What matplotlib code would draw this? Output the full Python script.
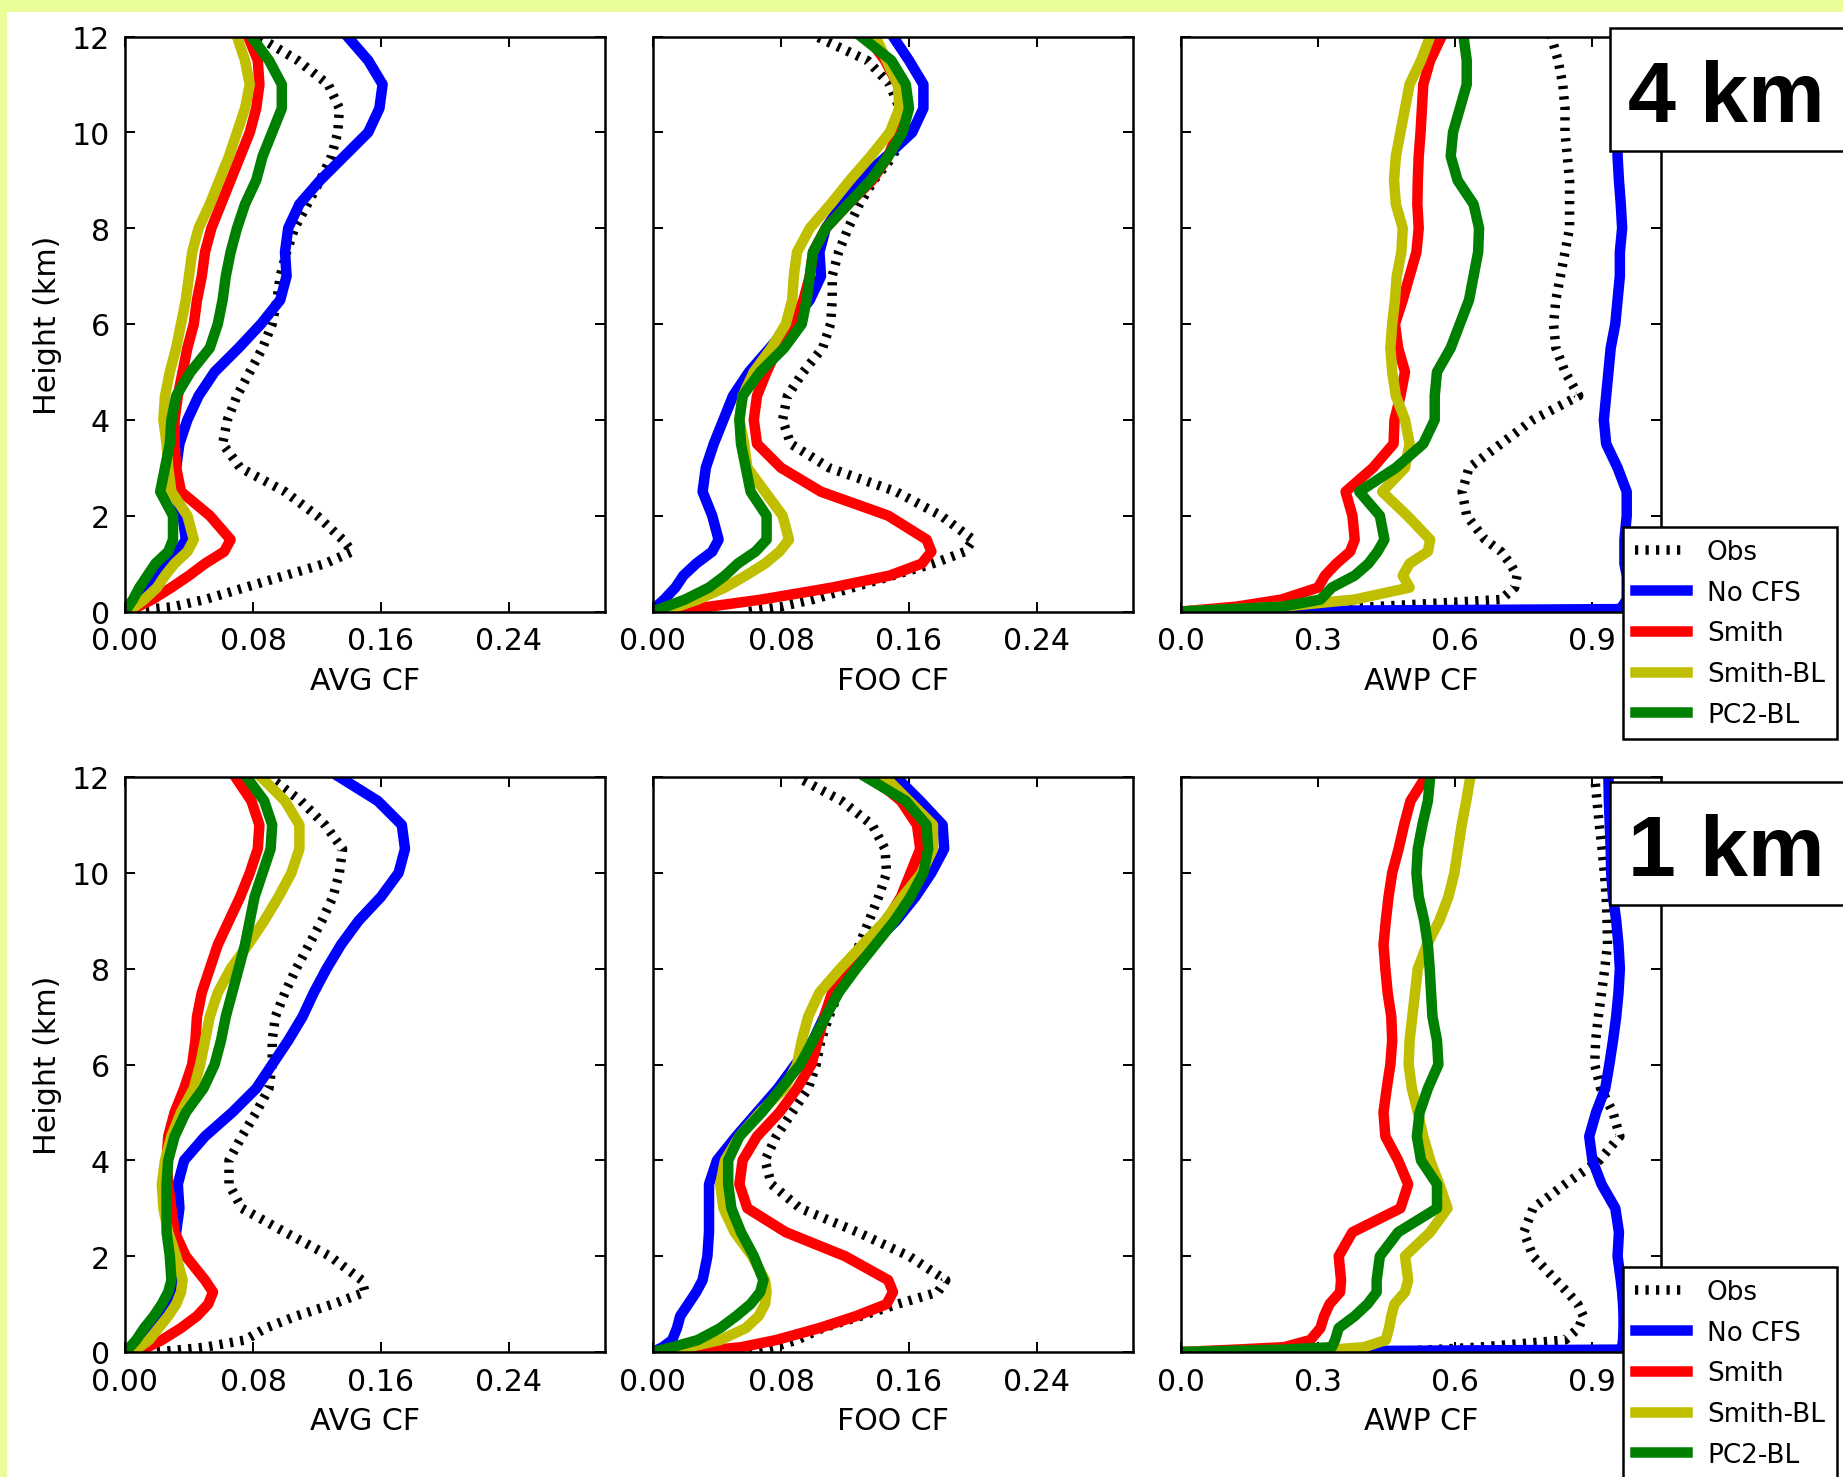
import matplotlib
matplotlib.use('Agg')
import matplotlib.pyplot as plt
from matplotlib.patches import Rectangle
from matplotlib.ticker import FormatStrFormatter

# alturas comunes (km) para todas las curvas
H = [0, 0.05, 0.1, 0.25, 0.5, 0.75, 1.0, 1.25, 1.5, 2.0, 2.5, 3.0, 3.5, 4.0, 4.5,
     5.0, 5.5, 6.0, 6.5, 7.0, 7.5, 8.0, 8.5, 9.0, 9.5, 10.0, 10.5, 11.0, 11.5, 12.0]

SERIES = ['Obs', 'No CFS', 'Smith', 'Smith-BL', 'PC2-BL']

# ---- 4 km ----
AVG4_OBS = [0.0, 0.015, 0.03, 0.05, 0.075, 0.10, 0.125, 0.142, 0.136, 0.12, 0.10, 0.072, 0.061, 0.064, 0.07,
            0.078, 0.086, 0.092, 0.095, 0.097, 0.101, 0.106, 0.114, 0.122, 0.129, 0.133, 0.134, 0.127, 0.108, 0.083]
AVG4_NOCFS = [0.0, 0.0015, 0.003, 0.007, 0.013, 0.02, 0.027, 0.033, 0.038, 0.036, 0.031, 0.032, 0.034, 0.039, 0.046,
              0.056, 0.071, 0.085, 0.097, 0.101, 0.100, 0.102, 0.109, 0.122, 0.137, 0.152, 0.159, 0.161, 0.152, 0.139]
AVG4_SMITH = [0.004, 0.006, 0.008, 0.017, 0.029, 0.04, 0.05, 0.062, 0.066, 0.053, 0.035, 0.032, 0.031, 0.031, 0.033,
              0.036, 0.039, 0.043, 0.045, 0.048, 0.050, 0.054, 0.060, 0.066, 0.072, 0.078, 0.082, 0.084, 0.083, 0.077]
AVG4_SMITHBL = [0.003, 0.004, 0.006, 0.012, 0.02, 0.025, 0.031, 0.039, 0.043, 0.039, 0.029, 0.027, 0.026, 0.024, 0.025,
                0.028, 0.032, 0.035, 0.038, 0.040, 0.042, 0.046, 0.053, 0.059, 0.065, 0.070, 0.075, 0.078, 0.075, 0.070]
AVG4_PC2BL = [0.0, 0.001, 0.002, 0.005, 0.009, 0.014, 0.019, 0.027, 0.030, 0.030, 0.022, 0.025, 0.028, 0.029, 0.032,
              0.041, 0.053, 0.058, 0.061, 0.063, 0.066, 0.070, 0.075, 0.082, 0.086, 0.092, 0.098, 0.098, 0.090, 0.079]

FOO4_OBS = [0.06, 0.07, 0.08, 0.10, 0.125, 0.15, 0.175, 0.195, 0.20, 0.18, 0.152, 0.11, 0.086, 0.081, 0.084,
            0.094, 0.106, 0.111, 0.112, 0.112, 0.116, 0.122, 0.129, 0.138, 0.150, 0.156, 0.154, 0.148, 0.134, 0.102]
FOO4_NOCFS = [0.0, 0.001, 0.002, 0.007, 0.014, 0.019, 0.027, 0.037, 0.041, 0.037, 0.031, 0.033, 0.038, 0.044, 0.050,
              0.060, 0.073, 0.086, 0.098, 0.105, 0.104, 0.108, 0.118, 0.129, 0.146, 0.162, 0.169, 0.169, 0.160, 0.150]
FOO4_SMITH = [0.012, 0.024, 0.035, 0.068, 0.112, 0.148, 0.168, 0.174, 0.171, 0.147, 0.105, 0.08, 0.065, 0.063, 0.065,
              0.071, 0.078, 0.088, 0.094, 0.098, 0.100, 0.108, 0.122, 0.137, 0.147, 0.153, 0.156, 0.153, 0.145, 0.134]
FOO4_SMITHBL = [0.008, 0.011, 0.015, 0.028, 0.045, 0.058, 0.07, 0.079, 0.085, 0.081, 0.07, 0.059, 0.057, 0.054, 0.056,
                0.063, 0.074, 0.083, 0.087, 0.088, 0.090, 0.098, 0.111, 0.123, 0.136, 0.148, 0.154, 0.153, 0.146, 0.139]
FOO4_PC2BL = [0.0, 0.004, 0.008, 0.02, 0.035, 0.045, 0.053, 0.064, 0.071, 0.071, 0.061, 0.058, 0.055, 0.054, 0.056,
              0.067, 0.082, 0.093, 0.096, 0.098, 0.100, 0.108, 0.122, 0.136, 0.147, 0.156, 0.160, 0.158, 0.149, 0.130]

AWP4_OBS = [0.30, 0.36, 0.42, 0.70, 0.73, 0.735, 0.72, 0.70, 0.665, 0.625, 0.615, 0.63, 0.70, 0.77, 0.87,
            0.84, 0.82, 0.815, 0.82, 0.83, 0.84, 0.85, 0.85, 0.85, 0.845, 0.84, 0.84, 0.835, 0.825, 0.81]
AWP4_NOCFS = [0.0, 0.96, 0.965, 0.975, 0.975, 0.975, 0.97, 0.97, 0.97, 0.975, 0.975, 0.955, 0.93, 0.925, 0.93,
              0.935, 0.94, 0.95, 0.955, 0.96, 0.96, 0.965, 0.962, 0.958, 0.955, 0.955, 0.955, 0.955, 0.955, 0.955]
AWP4_SMITH = [0.0, 0.06, 0.12, 0.22, 0.30, 0.315, 0.34, 0.37, 0.38, 0.375, 0.36, 0.42, 0.465, 0.467, 0.48,
              0.49, 0.475, 0.468, 0.485, 0.50, 0.515, 0.52, 0.517, 0.518, 0.52, 0.524, 0.527, 0.53, 0.545, 0.57]
AWP4_SMITHBL = [0.0, 0.12, 0.22, 0.38, 0.50, 0.485, 0.50, 0.54, 0.545, 0.495, 0.44, 0.49, 0.50, 0.49, 0.47,
                0.462, 0.458, 0.462, 0.468, 0.472, 0.482, 0.485, 0.47, 0.466, 0.47, 0.48, 0.49, 0.50, 0.525, 0.545]
AWP4_PC2BL = [0.0, 0.11, 0.22, 0.305, 0.33, 0.38, 0.41, 0.43, 0.445, 0.435, 0.39, 0.47, 0.53, 0.555, 0.555,
              0.56, 0.59, 0.61, 0.63, 0.64, 0.65, 0.652, 0.64, 0.605, 0.59, 0.595, 0.61, 0.625, 0.625, 0.618]

# ---- 1 km ----
AVG1_OBS = [0.02, 0.035, 0.05, 0.075, 0.088, 0.107, 0.13, 0.15, 0.148, 0.128, 0.10, 0.073, 0.065, 0.065, 0.073,
            0.082, 0.09, 0.092, 0.092, 0.094, 0.10, 0.107, 0.115, 0.123, 0.13, 0.134, 0.136, 0.125, 0.11, 0.09]
AVG1_NOCFS = [0.0, 0.002, 0.004, 0.008, 0.014, 0.02, 0.025, 0.03, 0.032, 0.032, 0.032, 0.034, 0.033, 0.037, 0.05,
              0.067, 0.082, 0.092, 0.102, 0.111, 0.118, 0.126, 0.135, 0.146, 0.16, 0.171, 0.175, 0.173, 0.158, 0.134]
AVG1_SMITH = [0.005, 0.01, 0.014, 0.023, 0.035, 0.045, 0.052, 0.055, 0.05, 0.038, 0.031, 0.029, 0.027, 0.026, 0.027,
              0.031, 0.037, 0.042, 0.044, 0.045, 0.048, 0.053, 0.058, 0.065, 0.072, 0.078, 0.083, 0.084, 0.079, 0.069]
AVG1_SMITHBL = [0.003, 0.006, 0.009, 0.015, 0.021, 0.027, 0.032, 0.035, 0.036, 0.032, 0.027, 0.024, 0.023, 0.025, 0.029,
                0.035, 0.043, 0.047, 0.05, 0.053, 0.058, 0.066, 0.077, 0.087, 0.096, 0.104, 0.109, 0.109, 0.10, 0.085]
AVG1_PC2BL = [0.0, 0.002, 0.003, 0.007, 0.012, 0.018, 0.023, 0.027, 0.029, 0.028, 0.026, 0.026, 0.026, 0.027, 0.031,
              0.038, 0.049, 0.056, 0.06, 0.063, 0.067, 0.071, 0.075, 0.078, 0.081, 0.086, 0.091, 0.092, 0.087, 0.076]

FOO1_OBS = [0.06, 0.068, 0.075, 0.09, 0.106, 0.13, 0.153, 0.178, 0.183, 0.16, 0.128, 0.092, 0.074, 0.07, 0.077,
            0.087, 0.097, 0.102, 0.105, 0.11, 0.116, 0.122, 0.129, 0.135, 0.141, 0.146, 0.145, 0.137, 0.118, 0.09]
FOO1_NOCFS = [0.0, 0.003, 0.006, 0.012, 0.015, 0.017, 0.022, 0.027, 0.031, 0.034, 0.035, 0.035, 0.035, 0.04, 0.052,
              0.065, 0.078, 0.089, 0.1, 0.107, 0.115, 0.125, 0.137, 0.152, 0.164, 0.174, 0.182, 0.181, 0.167, 0.152]
FOO1_SMITH = [0.023, 0.04, 0.055, 0.077, 0.104, 0.127, 0.146, 0.15, 0.147, 0.12, 0.083, 0.059, 0.054, 0.056, 0.065,
              0.079, 0.09, 0.099, 0.103, 0.107, 0.112, 0.124, 0.136, 0.146, 0.155, 0.161, 0.167, 0.165, 0.155, 0.137]
FOO1_SMITHBL = [0.008, 0.015, 0.022, 0.042, 0.058, 0.066, 0.07, 0.071, 0.07, 0.062, 0.051, 0.044, 0.042, 0.045, 0.054,
                0.067, 0.082, 0.09, 0.093, 0.097, 0.104, 0.117, 0.131, 0.145, 0.156, 0.168, 0.175, 0.175, 0.16, 0.145]
FOO1_PC2BL = [0.0, 0.006, 0.012, 0.028, 0.042, 0.052, 0.061, 0.067, 0.069, 0.063, 0.055, 0.049, 0.047, 0.047, 0.054,
              0.068, 0.08, 0.092, 0.1, 0.108, 0.116, 0.127, 0.139, 0.151, 0.161, 0.169, 0.172, 0.171, 0.158, 0.133]

AWP1_OBS = [0.45, 0.55, 0.65, 0.84, 0.87, 0.88, 0.868, 0.845, 0.82, 0.77, 0.75, 0.77, 0.84, 0.915, 0.96,
            0.945, 0.918, 0.905, 0.907, 0.913, 0.92, 0.927, 0.933, 0.932, 0.93, 0.926, 0.921, 0.915, 0.91, 0.905]
AWP1_NOCFS = [0.0, 0.96, 0.965, 0.967, 0.968, 0.968, 0.967, 0.965, 0.962, 0.955, 0.958, 0.95, 0.92, 0.90, 0.893,
              0.908, 0.928, 0.937, 0.945, 0.952, 0.957, 0.96, 0.957, 0.952, 0.945, 0.941, 0.94, 0.938, 0.936, 0.935]
AWP1_SMITH = [0.0, 0.12, 0.225, 0.283, 0.305, 0.313, 0.325, 0.348, 0.35, 0.345, 0.375, 0.48, 0.497, 0.475, 0.447,
              0.443, 0.45, 0.458, 0.462, 0.46, 0.452, 0.447, 0.443, 0.448, 0.454, 0.462, 0.476, 0.488, 0.502, 0.535]
AWP1_SMITHBL = [0.0, 0.33, 0.40, 0.448, 0.455, 0.46, 0.467, 0.49, 0.497, 0.49, 0.545, 0.583, 0.565, 0.545, 0.53,
                0.518, 0.505, 0.498, 0.50, 0.506, 0.512, 0.518, 0.538, 0.565, 0.585, 0.598, 0.606, 0.614, 0.624, 0.633]
AWP1_PC2BL = [0.0, 0.224, 0.33, 0.337, 0.345, 0.38, 0.408, 0.428, 0.428, 0.435, 0.475, 0.56, 0.56, 0.525, 0.516,
              0.522, 0.54, 0.563, 0.56, 0.55, 0.547, 0.544, 0.54, 0.532, 0.52, 0.515, 0.518, 0.528, 0.54, 0.545]

filas = [
    ('4 km', [[AVG4_OBS, AVG4_NOCFS, AVG4_SMITH, AVG4_SMITHBL, AVG4_PC2BL],
              [FOO4_OBS, FOO4_NOCFS, FOO4_SMITH, FOO4_SMITHBL, FOO4_PC2BL],
              [AWP4_OBS, AWP4_NOCFS, AWP4_SMITH, AWP4_SMITHBL, AWP4_PC2BL]]),
    ('1 km', [[AVG1_OBS, AVG1_NOCFS, AVG1_SMITH, AVG1_SMITHBL, AVG1_PC2BL],
              [FOO1_OBS, FOO1_NOCFS, FOO1_SMITH, FOO1_SMITHBL, FOO1_PC2BL],
              [AWP1_OBS, AWP1_NOCFS, AWP1_SMITH, AWP1_SMITHBL, AWP1_PC2BL]]),
]
xlabels = ['AVG CF', 'FOO CF', 'AWP CF']
colores = ['k', (0, 0, 1), (1, 0, 0), (0.75, 0.75, 0), (0, 0.5, 0)]

plt.rcParams['font.family'] = 'DejaVu Sans'
plt.rcParams['font.size'] = 12
plt.rcParams['lines.scale_dashes'] = False
plt.rcParams['axes.linewidth'] = 1.0

W, Hpx = 1844, 1478
fig = plt.figure(figsize=(W / 180, Hpx / 180), dpi=180, facecolor='#e9fe99')
# fondo blanco (borde amarillo arriba e izquierda)
fig.patches.append(Rectangle((7 / W, 0), 1, 1 - 13 / Hpx, transform=fig.transFigure,
                             facecolor='white', edgecolor='none', zorder=-10))

lefts = [125 / W, 653 / W, 1181 / W]
bottoms = [(Hpx - 612.5) / Hpx, (Hpx - 1353) / Hpx]
aw, ah = 480 / W, 575 / Hpx
caja_top = [29, 783]
caja_bot = [152, 906]
leg_top = [528, 1268]

for r, (etiqueta, paneles) in enumerate(filas):
    for c, datos in enumerate(paneles):
        ax = fig.add_axes([lefts[c], bottoms[r], aw, ah])
        for i, serie in enumerate(datos):
            if i == 0:
                ax.plot(serie, H, color='k', lw=3.8, ls=(0, (1.3, 2.9)), label=SERIES[i])
            else:
                ax.plot(serie, H, color=colores[i], lw=4.2, label=SERIES[i])
        ax.set_ylim(0, 12)
        ax.set_yticks(range(0, 13, 2))
        if c < 2:
            ax.set_xlim(0, 0.3)
            ax.set_xticks([0, 0.08, 0.16, 0.24])
            ax.xaxis.set_major_formatter(FormatStrFormatter('%.2f'))
        else:
            ax.set_xlim(0, 1.05)
            ax.set_xticks([0, 0.3, 0.6, 0.9])
            ax.xaxis.set_major_formatter(FormatStrFormatter('%.1f'))
        ax.tick_params(direction='in', top=True, right=True, length=4, width=0.8, pad=6)
        if c == 0:
            ax.set_ylabel('Height (km)')
        else:
            ax.tick_params(labelleft=False)
        ax.set_xlabel(xlabels[c])
        if c == 2:
            leg = ax.legend(loc='upper left', bbox_to_anchor=(1623 / W, 1 - leg_top[r] / Hpx),
                            bbox_transform=fig.transFigure, fontsize=10.5, fancybox=False,
                            edgecolor='k', framealpha=1, borderaxespad=0, handlelength=2,
                            handletextpad=0.75, labelspacing=0.56, borderpad=0.45)
            leg.get_frame().set_linewidth(1.0)
            leg.set_zorder(20)

    # caja con la resolucion
    y0 = 1 - caja_bot[r] / Hpx
    fig.patches.append(Rectangle((1610 / W, y0), 0.2, (caja_bot[r] - caja_top[r]) / Hpx,
                                 transform=fig.transFigure, facecolor='white',
                                 edgecolor='k', lw=1.0, zorder=5))
    fig.text(1726 / W, 1 - (caja_bot[r] - 30) / Hpx, etiqueta, ha='center', va='baseline',
             fontsize=34.5, fontweight='bold', family='Liberation Sans', zorder=6)

fig.savefig('out.png', dpi=180)
